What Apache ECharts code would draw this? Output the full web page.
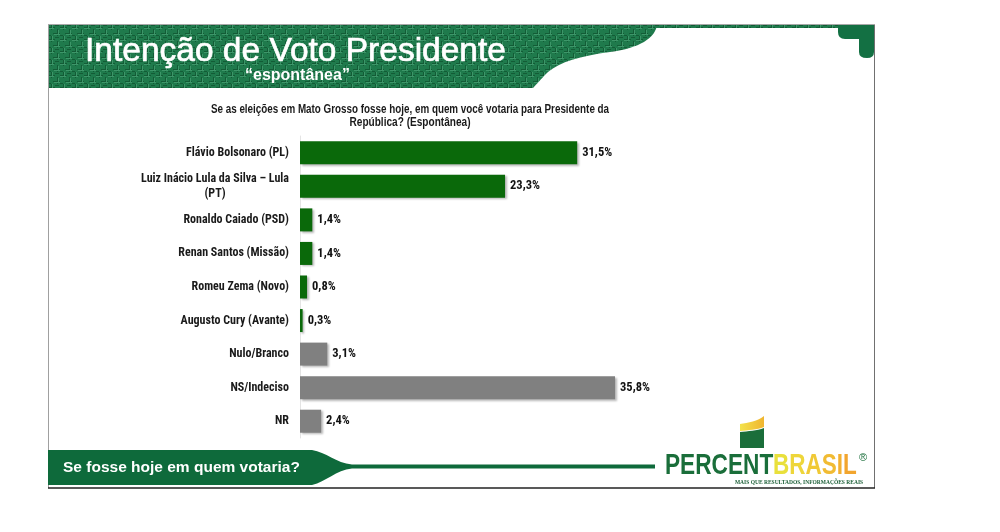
<!DOCTYPE html>
<html>
<head>
<meta charset="utf-8">
<script src="https://cdn.jsdelivr.net/npm/echarts@6/dist/echarts.min.js"></script>
<style>
  html, body { margin: 0; padding: 0; background: #ffffff; }
  #chart { width: 1000px; height: 532px; }
</style>
</head>
<body>
<div id="chart"></div>
<script>
// ---- data ----
const categories = [
  'Flávio Bolsonaro (PL)',
  'Luiz Inácio Lula da Silva – Lula\n(PT)',
  'Ronaldo Caiado (PSD)',
  'Renan Santos (Missão)',
  'Romeu Zema (Novo)',
  'Augusto Cury (Avante)',
  'Nulo/Branco',
  'NS/Indeciso',
  'NR'
];
const values = [31.5, 23.3, 1.4, 1.4, 0.8, 0.3, 3.1, 35.8, 2.4];
const candidateCount = 6; // first six are candidates (green), rest are other answers (gray)

const titleText = 'Intenção de Voto Presidente';
const subtitleText = '“espontânea”';
const questionLine1 = 'Se as eleições em Mato Grosso fosse hoje, em quem você votaria para Presidente da';
const questionLine2 = 'República? (Espontânea)';
const footerText = 'Se fosse hoje em quem votaria?';

// ---- styling ----
const COND = "Roboto, 'Liberation Sans', sans-serif";
const SANS = "'Liberation Sans', Arial, sans-serif";
const GREEN_BAR = '#0a690a';
const GRAY_BAR = '#808080';

function reg(name, d) {
  echarts.graphic.registerShape(name, echarts.graphic.extendPath(d, {}));
}
reg('hdrBand', 'M49 25 L657 25 C 655 38, 640 48, 610 52 C 580 56, 560 62, 548 72 C 540 80, 536 85, 533 88 L49 88 Z');
reg('hdrHook', 'M838 25 L874 25 L874 52 Q874 58 867 58 Q859 58 859 52 L859 39 L845 39 Q838 39 838 32 Z');
reg('ftrBand', 'M48 450 L312 450 C 326 452, 336 463, 352 464.5 L655 464.5 L655 468.5 L352 468.5 C 336 470, 326 482, 312 485 L48 485 Z');
reg('flagTop', 'M740 424 C 748 423, 758 421, 764 416 L764 427 C 757 430, 748 430, 740 431 Z');
reg('flagBody', 'M740 432 C 748 431, 757 431, 764 428 L764 448 L740 448 Z');

const pc = document.createElement('canvas');
pc.width = 12; pc.height = 12;
const g = pc.getContext('2d');
g.fillStyle = '#1f7a4c'; g.fillRect(0, 0, 12, 12);
g.fillStyle = '#135c36';
g.fillRect(0, 3, 7, 1); g.fillRect(5, 9, 7, 1); g.fillRect(3, 0, 1, 6); g.fillRect(9, 5, 1, 7);
g.fillRect(0, 11, 3, 1); g.fillRect(7, 1, 4, 1);
g.fillStyle = '#3d9669';
g.fillRect(0, 4, 6, 1); g.fillRect(6, 10, 6, 1); g.fillRect(4, 0, 1, 5); g.fillRect(10, 6, 1, 5);
const texture = { image: pc, repeat: 'repeat' };

const chart = echarts.init(document.getElementById('chart'), null, { renderer: 'canvas' });

const brasilColors = ['#e9e03c', '#eed63a', '#f0c936', '#f1bb33', '#f2b030', '#f2a52e'];
const brasilRich = {};
'BRASIL'.split('').forEach(function (ch, i) {
  brasilRich['l' + i] = { fill: brasilColors[i], font: 'bold 30px ' + SANS };
});
const brasilText = 'BRASIL'.split('').map(function (ch, i) { return '{l' + i + '|' + ch + '}'; }).join('');

const option = {
  backgroundColor: '#ffffff',
  animation: false,
  grid: { left: 300, top: 136, width: 352, height: 302, containLabel: false },
  xAxis: { type: 'value', min: 0, max: 40, show: false },
  yAxis: {
    type: 'category',
    data: categories,
    inverse: true,
    axisTick: { show: false },
    axisLine: { show: true, lineStyle: { color: '#e4e4e4', width: 1 } },
    axisLabel: {
      margin: 11,
      color: '#1a1a1a',
      fontFamily: COND,
      fontStyle: 'condensed',
      fontWeight: 'bold',
      fontSize: 12,
      lineHeight: 15,
      formatter: function (v) {
        return v.split('\n').map(function (l) { return '{c|' + l + '}'; }).join('\n');
      },
      rich: {
        c: { align: 'center', fontFamily: COND, fontStyle: 'condensed', fontWeight: 'bold', fontSize: 12, lineHeight: 15, color: '#1a1a1a' }
      }
    }
  },
  series: [{
    type: 'bar',
    data: values,
    barWidth: 23,
    itemStyle: {
      color: function (p) { return p.dataIndex < candidateCount ? GREEN_BAR : GRAY_BAR; },
      shadowColor: 'rgba(0,0,0,0.28)',
      shadowBlur: 2,
      shadowOffsetX: 1.5,
      shadowOffsetY: 1.5
    },
    label: {
      show: true,
      position: 'right',
      distance: 5,
      color: '#111111',
      fontFamily: COND,
      fontStyle: 'condensed',
      fontWeight: 'bold',
      fontSize: 12.5,
      formatter: function (p) { return p.value.toFixed(1).replace('.', ',') + '%'; }
    }
  }],
  graphic: [
    { type: 'line', z: 1, shape: { x1: 48.5, y1: 25, x2: 48.5, y2: 488 }, style: { stroke: '#a0a0a0', lineWidth: 1 } },
    { type: 'line', z: 1, shape: { x1: 874.5, y1: 25, x2: 874.5, y2: 488 }, style: { stroke: '#707070', lineWidth: 1 } },
    { type: 'line', z: 1, shape: { x1: 48, y1: 488, x2: 875, y2: 488 }, style: { stroke: '#222222', lineWidth: 1.5 } },
    { type: 'line', z: 1, shape: { x1: 48, y1: 24.5, x2: 875, y2: 24.5 }, style: { stroke: '#a8a8a8', lineWidth: 1 } },
    { type: 'hdrBand', z: 2, style: { fill: texture } },
    { type: 'rect', z: 2, shape: { x: 655, y: 25, width: 190, height: 3 }, style: { fill: texture } },
    { type: 'hdrHook', z: 2, style: { fill: '#137043' } },
    {
      type: 'text', z: 3, x: 85, y: 34.5,
      style: { text: titleText, fill: '#ffffff', font: '33.5px ' + SANS,
        stroke: '#ffffff', lineWidth: 0.7,
        shadowColor: 'rgba(0,0,0,0.5)', shadowBlur: 1, shadowOffsetX: 1, shadowOffsetY: 1 }
    },
    {
      type: 'text', z: 3, x: 245, y: 67.5,
      style: { text: subtitleText, fill: '#ffffff', font: 'bold 16px ' + SANS }
    },
    {
      type: 'text', z: 3, x: 410, y: 104, scaleX: 0.82,
      style: { text: questionLine1, fill: '#1a1a1a', font: 'bold 12px ' + SANS, align: 'center' }
    },
    {
      type: 'text', z: 3, x: 410, y: 117, scaleX: 0.84,
      style: { text: questionLine2, fill: '#1a1a1a', font: 'bold 12px ' + SANS, align: 'center' }
    },
    { type: 'ftrBand', z: 2, style: { fill: '#0e6a3b' } },
    {
      type: 'text', z: 3, x: 63, y: 460,
      style: { text: footerText, fill: '#ffffff', font: 'bold 15.5px ' + SANS }
    },
    {
      type: 'flagTop', z: 3,
      style: { fill: new echarts.graphic.LinearGradient(0, 0, 1, 0, [{ offset: 0, color: '#f3e24a' }, { offset: 1, color: '#f0b530' }]) }
    },
    { type: 'flagBody', z: 3, style: { fill: '#1a6e3a' } },
    {
      type: 'text', z: 3, x: 665, y: 451, scaleX: 0.755,
      style: { text: 'PERCENT', fill: '#1a6e3a', font: 'bold 30px ' + SANS }
    },
    {
      type: 'text', z: 3, x: 773, y: 451, scaleX: 0.75,
      style: { text: brasilText, rich: brasilRich, font: 'bold 30px ' + SANS }
    },
    {
      type: 'text', z: 3, x: 859, y: 452,
      style: { text: '®', fill: '#1a6e3a', font: '11px ' + SANS }
    },
    {
      type: 'text', z: 3, x: 799, y: 480,
      style: { text: 'MAIS QUE RESULTADOS, INFORMAÇÕES REAIS', fill: '#1a5e36', font: 'bold 5.5px ' + "'Liberation Serif', serif", align: 'center' }
    }
  ]
};

chart.setOption(option);
</script>
</body>
</html>
